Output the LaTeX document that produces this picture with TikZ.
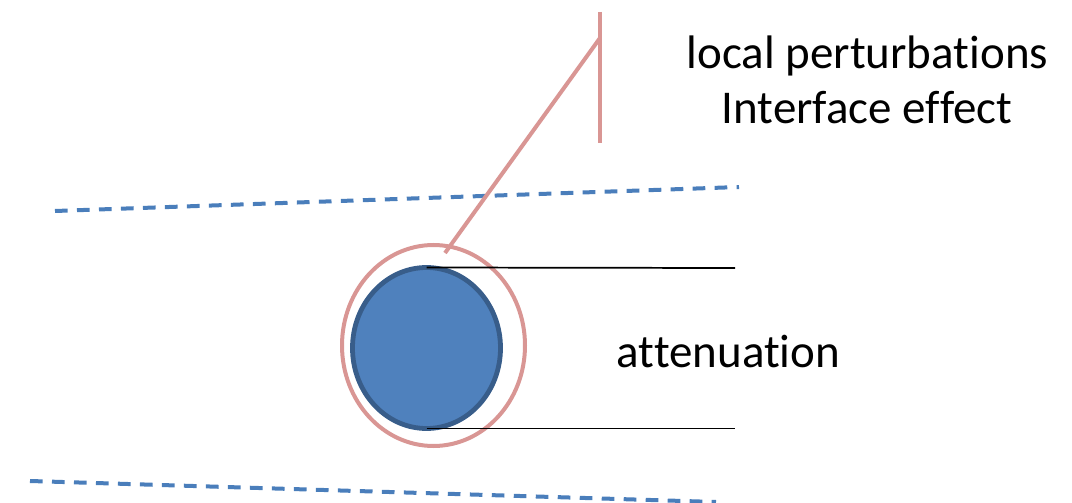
\documentclass[tikz,border=0pt]{standalone}
\usepackage{fontspec}
\setmainfont{Carlito}[Ligatures=NoCommon]
\usetikzlibrary{shapes.geometric}
\definecolor{dashblue}{HTML}{4A7EBB}
\definecolor{fillblue}{HTML}{4F81BD}
\definecolor{edgeblue}{HTML}{385D8A}
\definecolor{pinkline}{HTML}{D99694}
\tikzset{
  bluedash/.style={draw=dashblue, line width=3pt, dash pattern=on 9.5pt off 7pt},
  bubble/.style={ellipse, draw=edgeblue, fill=fillblue, line width=3.6pt, inner sep=0pt, outer sep=0pt},
  halo/.style={ellipse, draw=pinkline, line width=3pt, inner sep=0pt, outer sep=0pt},
  pinkstroke/.style={draw=pinkline, line width=3pt},
  thinline/.style={draw=black, line width=1.3pt},
  label/.style={font=\fontsize{35.25pt}{40pt}\selectfont, anchor=base, inner sep=0pt}
}
\begin{document}
\begin{tikzpicture}[x=0.75pt, y=-0.75pt]
\useasboundingbox (0,0) rectangle (1072,503);
% dashed interface lines
\coordinate (d1a) at (55,211);
\coordinate (d1b) at (739,187);
\coordinate (d2a) at (30,481);
\coordinate (d2b) at (716,502);
\draw[bluedash] (d1a) -- (d1b);
\draw[bluedash] (d2a) -- (d2b);
% ellipses
\node[halo, minimum width=137.25pt, minimum height=150.75pt] (pinkring) at (433.5,345.5) {};
\node[bubble, minimum width=111pt, minimum height=120.75pt] (bubble) at (426.5,348) {};
% attenuation lines
\coordinate (t1) at (735,268);
\coordinate (t2) at (735,428.5);
\draw[thinline] (bubble.north) -- (t1);
\draw[thinline] (bubble.south) -- (t2);
% pink pointer
\coordinate (pa) at (445,253);
\coordinate (pb) at (600,38);
\coordinate (vt) at (600,12);
\coordinate (vb) at (600,143);
\draw[pinkstroke] (pa) -- (pb);
\draw[pinkstroke] (vt) -- (vb);
% texts
\node[label] (lp) at (867.5,69) {local perturbations};
\node[label] (ie) at (867,123) {Interface ef\kern0pt{}fect};
\node[label] (att) at (728.5,367) {attenuation};
\end{tikzpicture}
\end{document}
